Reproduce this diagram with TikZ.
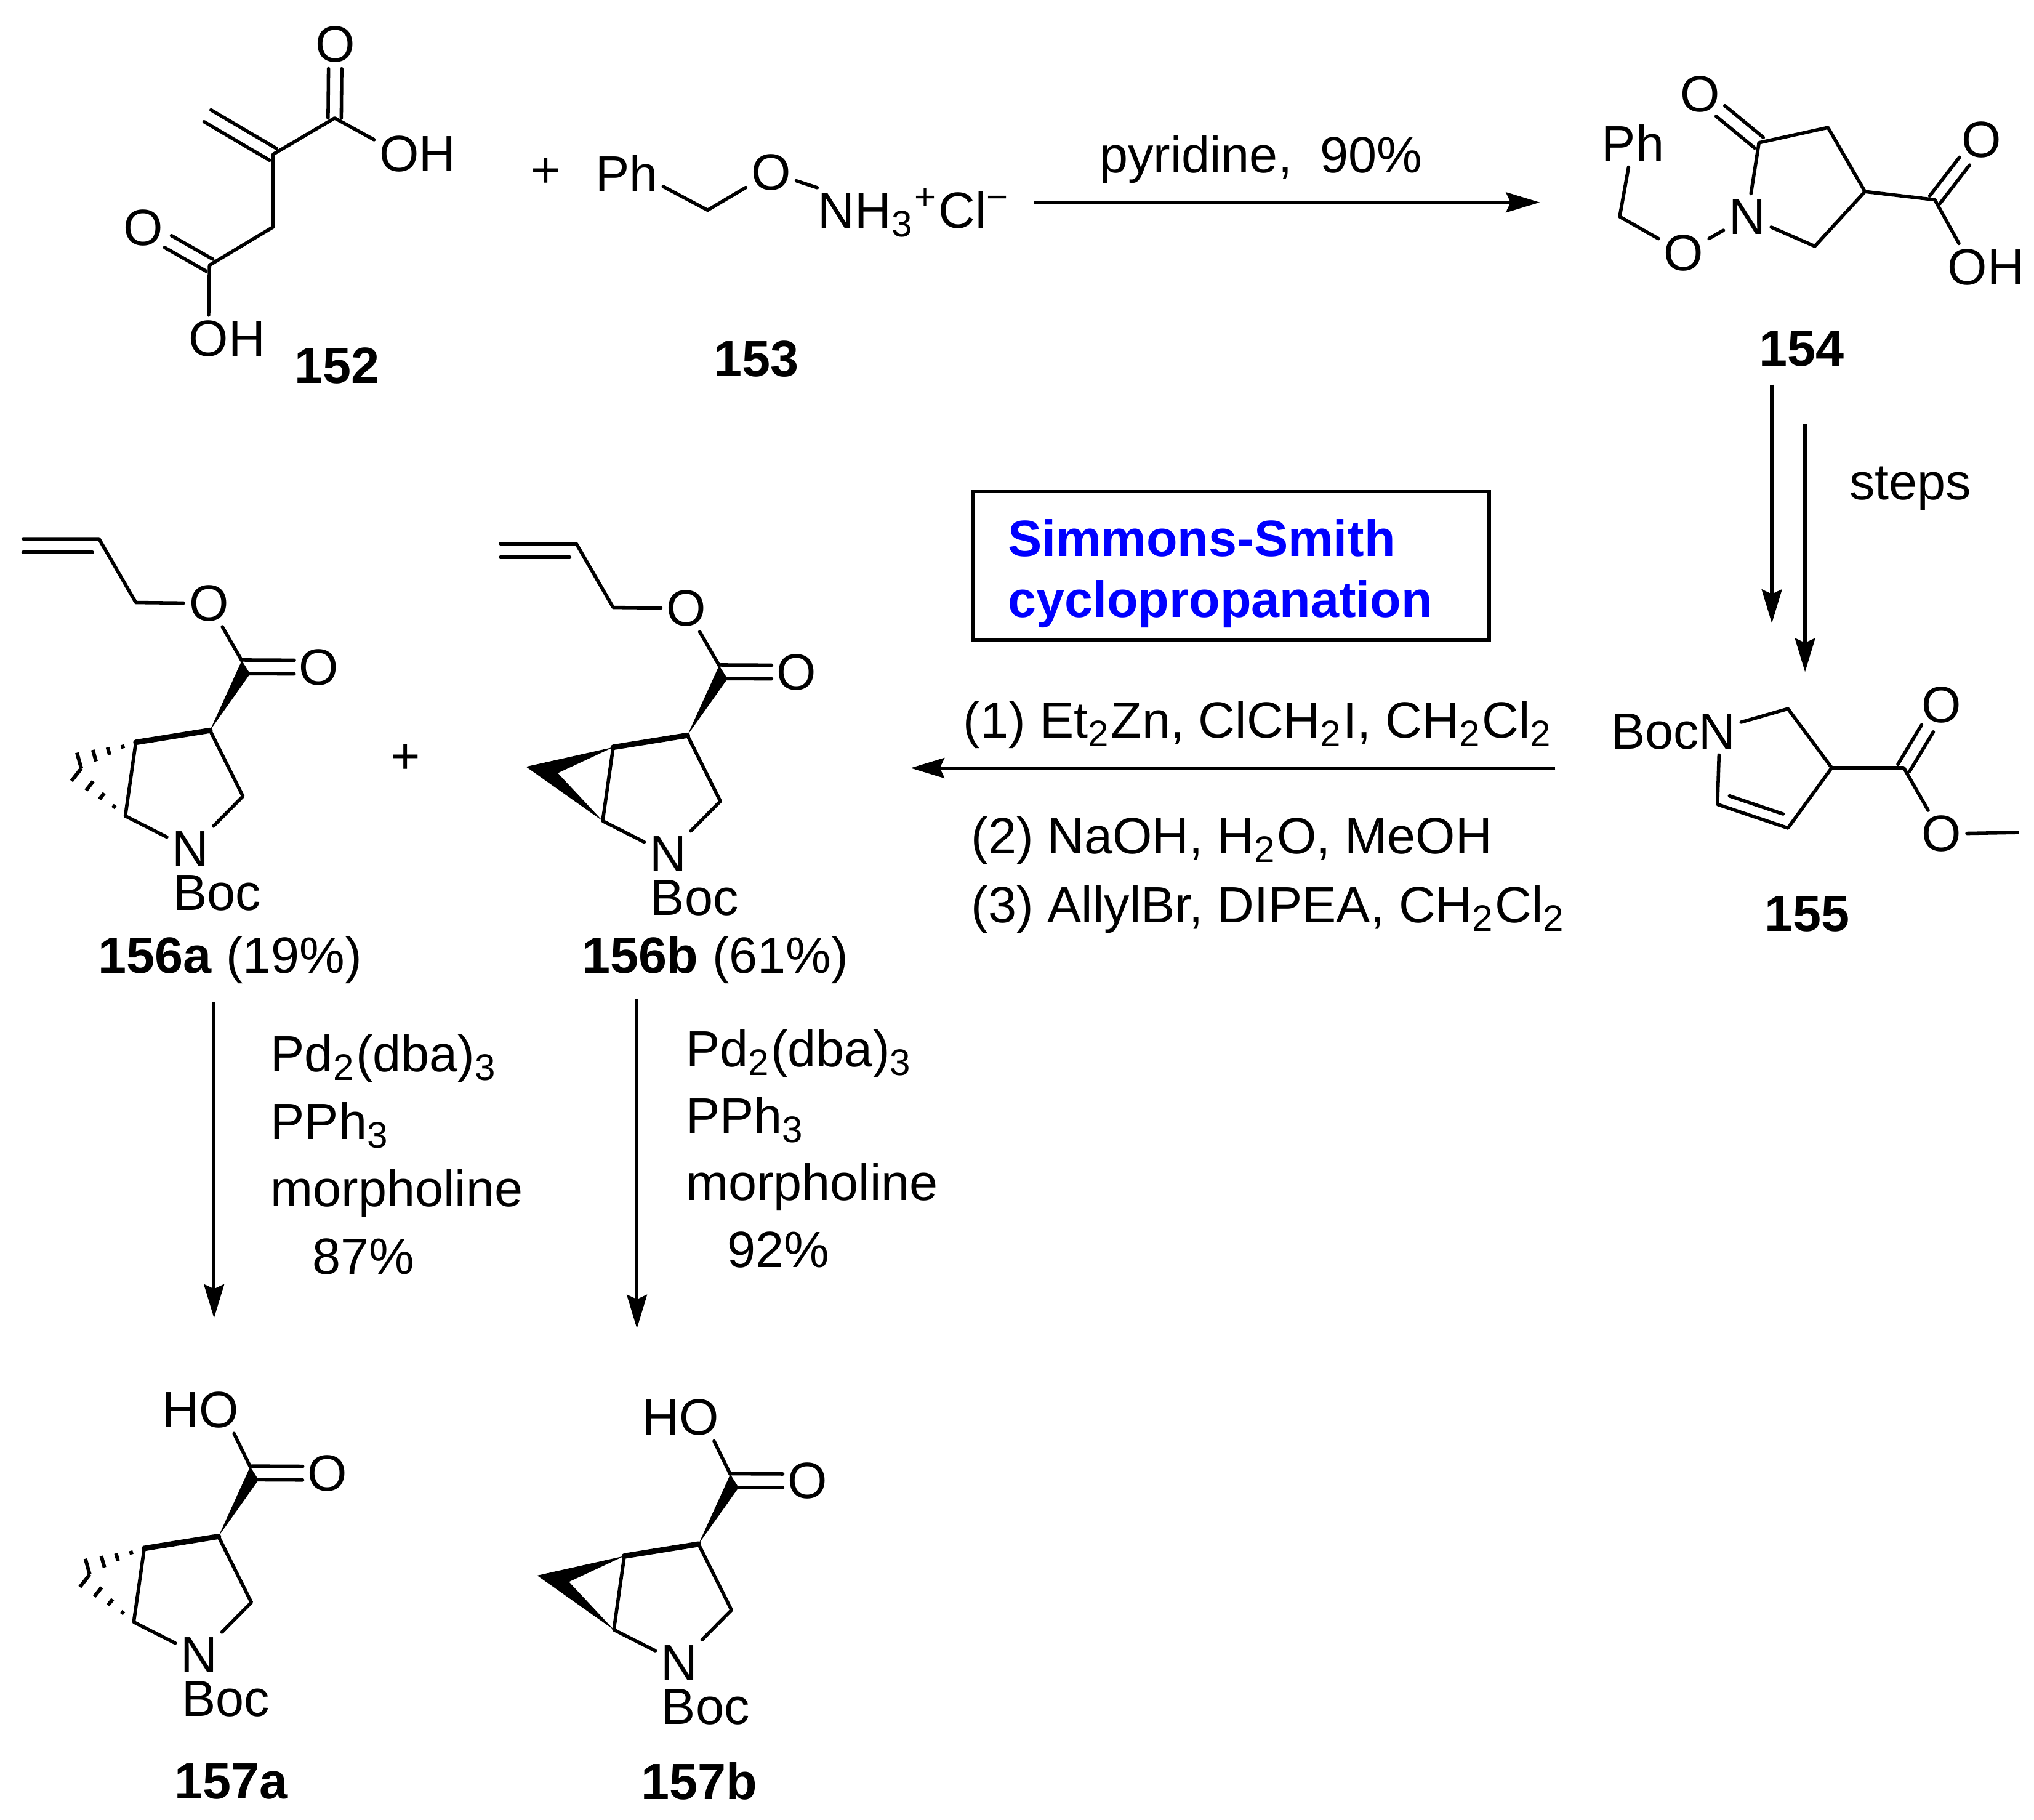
\documentclass[tikz,border=0pt]{standalone}
\usepackage{fontspec}
\setmainfont{Liberation Sans}
\usetikzlibrary{calc,arrows.meta}
\DeclareMathSizes{11.17}{11.17}{8.1}{7}
\newcommand{\chemfont}{\fontsize{11.17}{13.3}\selectfont}
\tikzset{
	atom/.style={font=\chemfont,inner sep=1pt},
	txt/.style={font=\chemfont,inner sep=0pt,anchor=base west},
	numlabel/.style={font=\chemfont\bfseries,inner sep=0pt},
	bond/.style={line width=0.75pt,line cap=round,line join=round},
	boldbond/.style={line width=1.2pt,line cap=round},
	rxn/.style={line width=0.75pt,-{Stealth[length=7.4pt,width=4.4pt,inset=1pt]}}
}
\def\dblbond#1#2#3#4{\draw[bond,shorten >=#4] ($(#1)!#3!90:(#2)$) -- ($(#2)!#3!-90:(#1)$); \draw[bond,shorten >=#4] ($(#1)!-#3!90:(#2)$) -- ($(#2)!-#3!-90:(#1)$);}
\def\hashbond#1#2#3{\foreach \t in {.23,.48,.73,1} \draw[line width=0.8pt] ($(#1)!\t!(#2)$) -- ($(#1)!\t!(#3)$);}
\def\ringcore{
	\coordinate (ca) at (161.9,563);
	\coordinate (cb) at (104.7,572.2);
	\coordinate (cc) at (96.6,629);
	\coordinate (cd) at (187.3,613.8);
	\coordinate (ce) at (187.5,514);
	\coordinate (cf) at (186.4,509.2);
	\coordinate (cg) at (192.8,519.4);
	\node[atom] (nt) at (147,654.5) {N};
	\node[atom] (boc) at (167.4,688.4) {Boc};
	\node[atom] (oa) at (245.8,514.3) {O};
	\draw[bond] (nt) -- (cc) -- (cb);
	\draw[bond] (nt) -- (cd) -- (ca);
	\draw[boldbond] (cb) -- (ca);
	\fill (ca) -- (cf) -- (cg) -- cycle;
	\dblbond{ce}{oa}{1.5pt}{5.4pt}
}
\def\ringhash{
	\coordinate (ht) at (59.3,580.2);
	\coordinate (hm) at (62.7,592.3);
	\coordinate (hb) at (55.1,602);
	\hashbond{cb}{ht}{hm}
	\hashbond{cc}{hb}{hm}
}
\def\ringsolid{
	\coordinate (wa) at (37.5,587.2);
	\coordinate (wb) at (62,592.1);
	\fill (cb) -- (wa) -- (cc) -- (wb) -- cycle;
	\draw[line width=0.5pt] (cb) -- (cc);
}
\def\allyltail{
	\coordinate (ala) at (17.8,415.3);
	\coordinate (alb) at (76.3,415.3);
	\coordinate (alc) at (104.7,464.4);
	\node[atom] (ob) at (161,465) {O};
	\draw[bond] (ala) -- (alb) -- (alc) -- (ob);
	\draw[bond] ($(ala)+(0,10.4)$) -- ($(alb)+(-5.1,10.4)$);
	\draw[bond] (ob) -- (cf);
}
\def\acidtail{
	\node[atom] (ho) at (148,465.5) {HO};
	\draw[bond] (ho.-35) -- (cf);
}

\begin{document}
\begin{tikzpicture}[x=0.01cm,y=-0.01cm]
			%%%%% START %%%%%
			\path[use as bounding box] (0,0) rectangle (1568,1402.4);
			
			% 152
			\coordinate (ua) at (258,91);
			\coordinate (ub) at (210.5,119);
			\coordinate (uc) at (210.5,175);
			\coordinate (ud) at (161.5,204.4);
			\coordinate (ue) at (160,89.3);
			\node[atom] (ucoa) at (258.5,34) {O};
			\node[atom] (uoha) at (322,118.6) {OH};
			\node[atom] (ucob) at (110.6,175.4) {O};
			\node[atom] (uohb) at (175,261) {OH};
			\draw[bond] (uoha.162) -- (ua) -- (ub) -- (uc) -- (ud) -- (uohb.128);
			\dblbond{ua}{ucoa}{1.45pt}{5.4pt}
			\dblbond{ub}{ue}{1.5pt}{0pt}
			\dblbond{ud}{ucob}{1.5pt}{6.2pt}
			\node[numlabel] (l152) at (260,282) {152};
			
			\node[atom] (plusa) at (421,133) {+};
			
			% 153
			\node[atom] (pha) at (483,133.5) {Ph};
			\coordinate (va) at (545.5,162);
			\node[atom] (ova) at (594.4,133) {O};
			\node[txt] (nh) at (630,175.8) {NH\textsubscript{3}\textsuperscript{+}Cl\textsuperscript{−}};
			\draw[bond] (pha.-20) -- (va) -- (ova);
			\draw[bond] (ova) -- (nh.north west);
			\node[numlabel] (l153) at (583,276.5) {153};
			
			% 152 + 153 to 154
			\coordinate (arra) at (797,156);
			\coordinate (arrb) at (1187,156);
			\draw[rxn] (arra) -- (arrb);
			\node[txt] (pyr) at (847,133) {pyridine,\ \ 90\%};
			
			% 154
			\node[atom] (phb) at (1258.8,110.4) {Ph};
			\coordinate (wc) at (1248.6,167);
			\node[atom] (owa) at (1298,195) {O};
			\node[atom] (nw) at (1347,167) {N};
			\coordinate (wd) at (1356,110);
			\node[atom] (owb) at (1310.6,72.6) {O};
			\coordinate (we) at (1409.2,98.3);
			\coordinate (wf) at (1437.7,147.7);
			\coordinate (wg) at (1399,189.8);
			\coordinate (wh) at (1491.5,154);
			\node[atom] (owc) at (1527.3,107.5) {O};
			\node[atom] (owd) at (1531,205.8) {OH};
			\draw[bond] (phb) -- (wc) -- (owa) -- (nw) -- (wd) -- (we) -- (wf) -- (wg) -- (nw);
			\draw[bond] (wf) -- (wh) -- (owd.139);
			\dblbond{wd}{owb}{1.5pt}{5.8pt}
			\dblbond{wh}{owc}{1.4pt}{6pt}
			\node[numlabel] (l154) at (1389,268.8) {154};
			
			% 154 to 155
			\coordinate (arrc) at (1365.9,296.4);
			\coordinate (arrd) at (1365.9,480.4);
			\coordinate (arre) at (1391.5,327);
			\coordinate (arrf) at (1391.5,518);
			\draw[rxn] (arrc) -- (arrd);
			\draw[rxn] (arre) -- (arrf);
			\node[txt] (stp) at (1425,385) {steps};
			
			% 155
			\node[atom] (bocn) at (1290,564) {BocN};
			\coordinate (xa) at (1378.3,546.3);
			\coordinate (xb) at (1412.1,591.8);
			\coordinate (xc) at (1378.3,638.3);
			\coordinate (xd) at (1324,620);
			\coordinate (xe) at (1467.6,591.8);
			\node[atom] (oxa) at (1496.8,543.4) {O};
			\node[atom] (oxb) at (1496.8,642.7) {O};
			\coordinate (xf) at (1555.2,641.7);
			\draw[bond] (bocn.8) -- (xa) -- (xb) -- (xc) -- (xd) -- (bocn.-27);
			\draw[bond] ($(xd)!.17!(xc)+(0,-9.6)$) -- ($(xd)!.93!(xc)+(0,-9.6)$);
			\draw[bond] (xb) -- (xe) -- (oxb) -- (xf);
			\dblbond{xe}{oxa}{1.5pt}{6pt}
			\node[numlabel] (l155) at (1393,704.6) {155};
			
			% box
			\node[draw,line width=0.75pt,minimum width=3.98cm,minimum height=1.14cm] (simmons) at (949,436) {};
			\node[inner sep=0pt,text width=3.44cm,align=left,font=\chemfont\bfseries,text=blue] (simmonstxt) at (949,442) {Simmons-Smith\\cyclopropanation};
			
			% 155 to 156
			\coordinate (arrg) at (1199,592);
			\coordinate (arrh) at (702,592);
			\draw[rxn] (arrg) -- (arrh);
			\node[txt] (cona) at (742,569) {(1) Et\textsubscript{2}Zn, ClCH\textsubscript{2}I, CH\textsubscript{2}Cl\textsubscript{2}};
			\node[txt] (conb) at (748,658) {(2) NaOH, H\textsubscript{2}O, MeOH};
			\node[txt] (conc) at (748,711) {(3) AllylBr, DIPEA, CH\textsubscript{2}Cl\textsubscript{2}};
			
			% 156a and 156b
			\ringcore
			\ringhash
			\allyltail
			\begin{scope}[shift={(368,3.8)}]
				\ringcore
				\ringsolid
				\allyltail
			\end{scope}
			\node[atom] (plusb) at (312.7,585) {+};
			\node[txt] (l156a) at (75,750) {\textbf{156a} (19\%)};
			\node[txt] (l156b) at (448,750) {\textbf{156b} (61\%)};
			
			% 156 to 157
			\coordinate (arri) at (165,772);
			\coordinate (arrj) at (165,1016);
			\coordinate (arrk) at (491,770);
			\coordinate (arrl) at (491,1024);
			\draw[rxn] (arri) -- (arrj);
			\draw[rxn] (arrk) -- (arrl);
			\node[txt] (pda) at (208,826) {Pd\textsubscript{2}(dba)\textsubscript{3}};
			\node[txt] (ppa) at (208,878) {PPh\textsubscript{3}};
			\node[txt] (moa) at (208,930) {morpholine};
			\node[txt] (yda) at (240,982) {87\%};
			\node[txt] (pdb) at (528,822) {Pd\textsubscript{2}(dba)\textsubscript{3}};
			\node[txt] (ppb) at (528,874) {PPh\textsubscript{3}};
			\node[txt] (mob) at (528,925) {morpholine};
			\node[txt] (ydb) at (560,977) {92\%};
			
			% 157a and 157b
			\begin{scope}[shift={(6.5,621.3)}]
				\ringcore
				\ringhash
				\acidtail
			\end{scope}
			\begin{scope}[shift={(376.6,627.2)}]
				\ringcore
				\ringsolid
				\acidtail
			\end{scope}
			\node[numlabel] (l157a) at (178,1373) {157a};
			\node[numlabel] (l157b) at (539,1373) {157b};
			
			%%%%% END %%%%%
		\end{tikzpicture}
\end{document}
